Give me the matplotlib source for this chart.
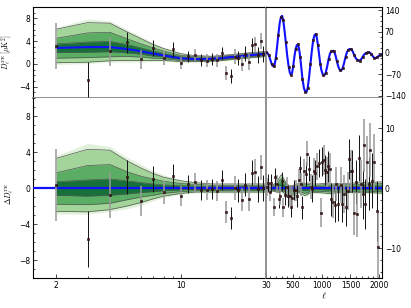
import numpy as np
import matplotlib
matplotlib.use("Agg")
import matplotlib.pyplot as plt
from matplotlib.ticker import MultipleLocator, FixedLocator, NullLocator, NullFormatter, FixedFormatter

plt.rcParams['mathtext.fontset'] = 'cm'

# low multipoles (log part), ell = 2..29
lo_ell = list(range(2, 30))
lo_model = [2.8, 2.95, 2.95, 2.6, 2.2, 1.8, 1.5, 1.2, 1.0, 0.9, 0.85, 0.85, 0.85, 0.9,
            0.95, 1.0, 1.1, 1.2, 1.25, 1.3, 1.35, 1.45, 1.5, 1.55, 1.6, 1.65, 1.7, 1.75]
lo_resid = [0.36, -5.7, -0.77, 1.21, -1.43, 0.99, -0.48, 1.35, -0.85, 0.44, 0.66, -0.19,
            -0.26, -0.08, -0.33, 0.91, -2.65, -3.35, 0.0, -0.26, -1.29, 0.36, -1.18, 1.72,
            1.83, -0.11, 2.31, 0.0]
lo_err = [4.0, 3.1, 2.55, 1.85, 1.7, 1.4, 1.25, 1.3, 1.1, 1.0, 1.05, 1.1, 1.1, 1.1, 1.1,
          1.1, 1.2, 1.25, 1.3, 1.3, 1.3, 1.3, 1.35, 1.35, 1.35, 1.4, 1.4, 1.4]

# spread of model realisations around the best fit (low ell), inner -> outer
band_ell = [2, 3, 4, 5, 6, 7, 8, 10, 12, 15, 20, 25, 30]
band_up = [
    [0.7, 0.9, 1.0, 0.8, 0.6, 0.45, 0.35, 0.25, 0.2, 0.15, 0.15, 0.15, 0.15],
    [1.7, 2.5, 2.6, 1.8, 1.3, 1.0, 0.75, 0.5, 0.4, 0.3, 0.3, 0.3, 0.3],
    [3.3, 4.3, 4.2, 3.0, 2.2, 1.6, 1.2, 0.8, 0.6, 0.45, 0.45, 0.45, 0.45],
    [3.6, 4.95, 4.6, 3.4, 2.6, 1.9, 1.45, 0.95, 0.7, 0.55, 0.55, 0.55, 0.55],
]
band_dn = [
    [-0.8, -0.9, -0.8, -0.65, -0.5, -0.4, -0.3, -0.2, -0.15, -0.15, -0.15, -0.15, -0.15],
    [-1.8, -1.85, -1.7, -1.3, -1.0, -0.8, -0.6, -0.4, -0.3, -0.3, -0.3, -0.3, -0.3],
    [-2.6, -2.65, -2.4, -2.0, -1.6, -1.2, -0.9, -0.6, -0.45, -0.45, -0.45, -0.45, -0.45],
    [-2.9, -2.9, -2.6, -2.3, -1.9, -1.4, -1.05, -0.7, -0.55, -0.55, -0.55, -0.55, -0.55],
]

# high multipoles (linear part): best-fit TE spectrum
hi_ell = [30, 55, 80, 105, 130, 150, 165, 180, 200, 220, 245, 270, 290, 310, 330, 350,
          375, 400, 425, 445, 465, 485, 505, 525, 545, 565, 585, 605, 625, 645, 665, 690,
          712, 735, 757, 780, 805, 830, 852, 873, 895, 915, 935, 955, 975, 995, 1020,
          1045, 1070, 1095, 1120, 1145, 1170, 1195, 1215, 1240, 1265, 1290, 1315, 1340,
          1365, 1390, 1415, 1440, 1465, 1490, 1515, 1540, 1565, 1590, 1615, 1640, 1665,
          1690, 1715, 1740, 1765, 1790, 1815, 1840, 1865, 1890, 1915, 1940, 1965, 1990,
          2015, 2040]
hi_model = [1.8, 0, -8, -22, -37, -43, -44, -38, -18, 15, 60, 100, 118, 122, 108, 78,
            35, -10, -45, -65, -72, -65, -42, -12, 12, 25, 28, 15, -12, -48, -85, -115,
            -127, -129, -114, -80, -35, 10, 42, 58, 62, 50, 25, -5, -35, -57, -71,
            -74, -65, -45, -20, -2, 6, 7, 6, -8, -28, -45, -56, -58,
            -50, -33, -13, 3, 11, 13, 12, 5, -6, -16, -22, -25, -25,
            -20, -12, -5, -1, 1, 2, 1, -4, -11, -16, -17, -14, -10,
            -7, -6]

# binned residuals at high ell
res_ell = [45, 72, 100, 122, 162, 190, 219, 248, 276, 305, 334, 362, 391, 419, 440, 460,
           488, 517, 545, 568, 598, 625, 645, 665, 694, 723, 752, 778, 806, 835, 860, 889,
           915, 946, 987, 1010, 1032, 1061, 1084, 1113, 1141, 1164, 1199, 1230, 1256,
           1290, 1330, 1359, 1393, 1428, 1450, 1473, 1508, 1531, 1565, 1594, 1622, 1645,
           1691, 1720, 1737, 1760, 1794, 1817, 1846, 1874, 1909, 1960, 1977]
res_val = [0.1, 0.8, -0.6, 0.9, -3.2, 1.8, 0.6, -1.9, -1.3, 1.1, -3.2, -1.2, 0.1, -1.4,
           -1.3, -3.2, -1.6, -0.3, -0.4, -1.3, 1.4, 3.4, 0.6, -3.2, 2.8, 2.3, 5.7, 3.2,
           0.2, -0.1, 2.8, 2.5, 3.6, 4.2, -4.1, 4.4, 4.6, 3.0, 2.7, 3.6, 3.2, -1.9, -2.3,
           -2.9, 0.7, -2.6, 0.5, -2.7, -1.0, -3.1, -0.5, 4.8, 2.9, 2.8, -4.2, 1.0, -4.4,
           5.0, 0.7, -1.0, 7.1, -2.7, 4.4, 0.7, 6.3, 1.2, 4.3, -3.8, -9.8]
res_err = [1.5, 1.5, 1.5, 1.5, 1.5, 1.5, 1.5, 1.5, 1.6, 1.6, 1.6, 1.6, 1.7, 1.7, 1.7,
           1.7, 1.7, 1.7, 1.8, 1.8, 1.8, 1.9, 1.9, 1.9, 2.0, 2.0, 2.1, 2.1, 2.1, 2.2,
           2.2, 2.2, 2.3, 2.3, 2.4, 2.4, 2.5, 2.5, 2.5, 2.6, 2.6, 2.7, 2.7, 2.8, 2.8,
           2.9, 3.0, 3.0, 3.1, 3.2, 3.2, 3.3, 3.4, 3.5, 3.6, 3.7, 3.8, 3.9, 4.0, 4.1,
           4.4, 4.2, 4.3, 4.4, 4.5, 4.6, 4.7, 5.0, 5.8]

# envelope of realisations at high ell
hb_ell = [30, 80, 150, 220, 270, 300, 330, 380, 430, 470, 520, 600, 660, 700, 750, 800,
          850, 950, 1050, 1150, 1250, 1400, 1600, 1800, 2050]
hb_up = [0.6, 0.5, 0.6, 1.2, 2.2, 2.6, 2.0, 1.0, 0.5, 0.4, 0.6, 0.9, 1.0, 0.9, 1.0, 0.9,
         0.8, 0.8, 0.9, 0.8, 0.8, 0.9, 1.0, 1.1, 1.2]
hb_dn = [-0.6, -0.5, -0.6, -0.8, -0.8, -0.6, -0.9, -1.3, -1.7, -1.8, -1.3, -0.9, -1.2,
         -1.5, -1.3, -0.9, -0.9, -0.9, -1.0, -1.1, -0.9, -0.9, -0.9, -0.9, -1.0]
hb_levels = [0.3, 0.6, 0.85, 1.0]

greens = ['#17703a', '#5aad62', '#a3d49a', '#e0f1da']
blue = '#1010ff'
pt_face = '#5a1010'


def draw_bands(ax, x, center, ups, dns):
    x = np.asarray(x)
    for k in range(3, -1, -1):
        ax.fill_between(x, center + np.asarray(dns[k]), center + np.asarray(ups[k]),
                        color=greens[k], lw=0, zorder=1)
    for k in range(3):
        ax.plot(x, center + np.asarray(ups[k]), color='#555555', lw=0.5, zorder=2)
        ax.plot(x, center + np.asarray(dns[k]), color='#555555', lw=0.5, zorder=2)


def draw_points(ax, x, y, err):
    x = np.asarray(x)
    y = np.asarray(y)
    err = np.asarray(err)
    cols = ['#111111' if i % 2 else '#999999' for i in range(len(x))]
    lws = [0.7 if i % 2 else 1.1 for i in range(len(x))]
    ax.vlines(x, y - err, y + err, colors=cols, lw=lws, zorder=4)
    ax.plot(x, y, 's', ms=2.0, mfc=pt_face, mec='#111111', mew=0.4, zorder=5)


fig = plt.figure(figsize=(4.11, 3.08), dpi=100)
ax_tl = fig.add_axes([0.0803, 0.6818, 0.5669, 0.2955])
ax_tr = fig.add_axes([0.6472, 0.6818, 0.2822, 0.2955])
ax_bl = fig.add_axes([0.0803, 0.0974, 0.5669, 0.5844])
ax_br = fig.add_axes([0.6472, 0.0974, 0.2822, 0.5844])

lo_data = np.asarray(lo_model) + np.asarray(lo_resid)
band_center = np.interp(band_ell, lo_ell, lo_model)

# top left
draw_bands(ax_tl, band_ell, band_center, band_up, band_dn)
ax_tl.plot(lo_ell + [30], lo_model + [hi_model[0]], color=blue, lw=1.5, zorder=3)
draw_points(ax_tl, lo_ell, lo_data, lo_err)
ax_tl.set_xscale('log')
ax_tl.set_xlim(1.48, 30)
ax_tl.set_ylim(-6, 10)

# top right
ax_tr.plot(hi_ell, hi_model, color=blue, lw=1.5, zorder=3)
ax_tr.plot(hi_ell[::2], hi_model[::2], 's', ms=2.0, mfc=pt_face, mec='#111111',
           mew=0.4, zorder=5)
ax_tr.set_xlim(30, 2050)
ax_tr.set_ylim(-148, 151)

# bottom left
draw_bands(ax_bl, band_ell, np.zeros(len(band_ell)), band_up, band_dn)
ax_bl.axhline(0, color=blue, lw=1.6, zorder=3)
draw_points(ax_bl, lo_ell, lo_resid, lo_err)
ax_bl.set_xscale('log')
ax_bl.set_xlim(1.48, 30)
ax_bl.set_ylim(-10, 10)

# bottom right
hb_ups = [[f * v for v in hb_up] for f in hb_levels]
hb_dns = [[f * v for v in hb_dn] for f in hb_levels]
draw_bands(ax_br, hb_ell, np.zeros(len(hb_ell)), hb_ups, hb_dns)
ax_br.axhline(0, color=blue, lw=1.6, zorder=3)
draw_points(ax_br, res_ell, res_val, res_err)
ax_br.set_xlim(30, 2050)
ax_br.set_ylim(-15, 15)

# ticks and spines
for ax in (ax_tl, ax_tr, ax_bl, ax_br):
    ax.tick_params(which='both', direction='in', labelsize=5.5, width=0.5, pad=2)
    ax.tick_params(which='major', length=3)
    ax.tick_params(which='minor', length=1.5)
    for s in ax.spines.values():
        s.set_linewidth(0.8)

for ax in (ax_tl, ax_tr):
    ax.xaxis.set_major_locator(NullLocator())
    ax.xaxis.set_minor_locator(NullLocator())
    ax.spines['bottom'].set_color('#888888')
    ax.spines['bottom'].set_linewidth(1.3)
for ax in (ax_bl, ax_br):
    ax.spines['top'].set_visible(False)
    ax.xaxis.set_ticks_position('bottom')

for ax in (ax_tl, ax_bl):
    ax.spines['right'].set_visible(False)
    ax.yaxis.set_ticks_position('left')
for ax in (ax_tr, ax_br):
    ax.spines['left'].set_color('#888888')
    ax.spines['left'].set_linestyle((0, (2, 1)))
    ax.spines['left'].set_linewidth(1.3)
    ax.yaxis.tick_right()

ax_tl.yaxis.set_major_locator(MultipleLocator(4))
ax_tl.yaxis.set_minor_locator(MultipleLocator(1))
ax_bl.yaxis.set_major_locator(MultipleLocator(4))
ax_bl.yaxis.set_minor_locator(MultipleLocator(1))
ax_tr.yaxis.set_major_locator(FixedLocator([-140, -70, 0, 70, 140]))
ax_tr.yaxis.set_minor_locator(MultipleLocator(17.5))
ax_br.yaxis.set_major_locator(MultipleLocator(10))
ax_br.yaxis.set_minor_locator(MultipleLocator(2))

ax_bl.xaxis.set_major_locator(FixedLocator([2, 10]))
ax_bl.xaxis.set_major_formatter(FixedFormatter(['2', '10']))
ax_bl.xaxis.set_minor_locator(FixedLocator([3, 4, 5, 6, 7, 8, 9, 20]))
ax_bl.xaxis.set_minor_formatter(NullFormatter())
ax_br.xaxis.set_major_locator(FixedLocator([30, 500, 1000, 1500, 2000]))
ax_br.xaxis.set_minor_locator(MultipleLocator(100))

ax_tl.set_ylabel(r'$D_\ell^{TE}\,[\mu\mathrm{K}^2]$', fontsize=5.5)
ax_tl.yaxis.set_label_coords(-0.08, 0.5)
ax_bl.set_ylabel(r'$\Delta D_\ell^{TE}$', fontsize=5.5)
ax_bl.yaxis.set_label_coords(-0.08, 0.47)
ax_br.set_xlabel(r'$\ell$', fontsize=7, labelpad=1)

fig.savefig('out.png', dpi=100)
